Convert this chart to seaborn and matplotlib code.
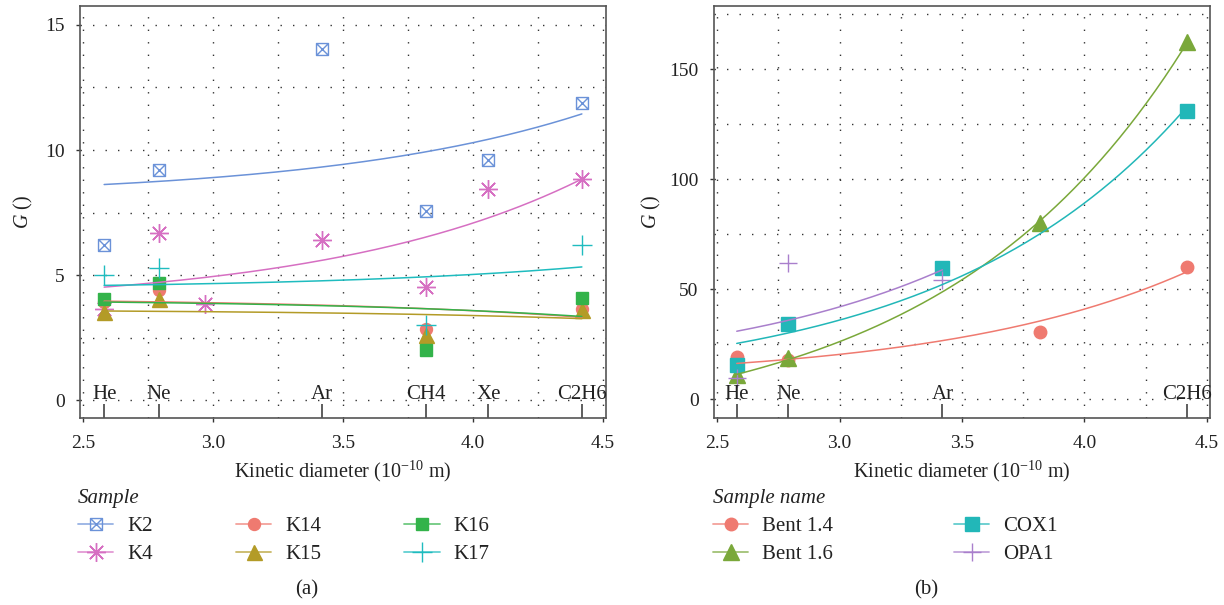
import numpy as np
import matplotlib
matplotlib.use('Agg')
import matplotlib.pyplot as plt
import matplotlib.transforms as mtransforms
from matplotlib.path import Path
from matplotlib.lines import Line2D
import seaborn as sns

sns.set_style('white')
plt.rcParams['font.family'] = ['Liberation Serif', 'DejaVu Serif']
plt.rcParams['mathtext.fontset'] = 'custom'
plt.rcParams['mathtext.rm'] = 'Liberation Serif'
plt.rcParams['mathtext.it'] = 'Liberation Serif:italic'

# gas kinetic diameters (1e-10 m), as placed on the axis
gas_a = ['He', 'Ne', 'Ar', 'CH4', 'Xe', 'C2H6']
gas_a_d = [2.58, 2.79, 3.42, 3.82, 4.06, 4.42]
gas_b = ['He', 'Ne', 'Ar', 'C2H6']
gas_b_d = [2.58, 2.79, 3.42, 4.42]

# panel (a) samples
k2_x = [2.58, 2.79, 3.42, 3.82, 4.06, 4.42]
k2_g = [6.2, 9.2, 14.05, 7.57, 9.6, 11.87]
k4_x = [2.58, 2.79, 2.97, 3.42, 3.82, 4.06, 4.42]
k4_g = [3.67, 6.69, 3.84, 6.4, 4.53, 8.44, 8.84]
k14_x = [2.58, 2.79, 3.82, 4.42]
k14_g = [3.95, 4.4, 2.87, 3.67]
k15_x = [2.58, 2.79, 3.82, 4.42]
k15_g = [3.53, 4.07, 2.6, 3.63]
k16_x = [2.58, 2.79, 3.82, 4.42]
k16_g = [4.07, 4.69, 2.0, 4.09]
k17_x = [2.58, 2.79, 3.82, 4.42]
k17_g = [5.0, 5.29, 3.0, 6.2]

# panel (b) samples
bent14_x = [2.58, 2.79, 3.82, 4.42]
bent14_g = [19.1, 17.9, 30.5, 60.3]
bent16_x = [2.58, 2.79, 3.82, 4.42]
bent16_g = [11.1, 18.6, 80.3, 162.6]
cox1_x = [2.58, 2.79, 3.42, 4.42]
cox1_g = [15.6, 34.2, 59.8, 131.0]
opa1_x = [2.58, 2.79, 3.42]
opa1_g = [9.5, 61.8, 54.2]

# square with a cross inside (ggplot shape 7)
sq_cross = Path([(-1, -1), (1, -1), (1, 1), (-1, 1), (-1, -1), (-1, -1), (1, 1), (-1, 1), (1, -1)],
                [Path.MOVETO, Path.LINETO, Path.LINETO, Path.LINETO, Path.CLOSEPOLY,
                 Path.MOVETO, Path.LINETO, Path.MOVETO, Path.LINETO])

series_a = [
    ('K2', k2_x, k2_g, '#6b92d8', sq_cross, 8.6, False),
    ('K4', k4_x, k4_g, '#d66fc2', (8, 2, 0), 13.5, False),
    ('K14', k14_x, k14_g, '#ef7a70', 'o', 8.6, True),
    ('K15', k15_x, k15_g, '#b39b27', '^', 10.8, True),
    ('K16', k16_x, k16_g, '#33b34a', 's', 9, True),
    ('K17', k17_x, k17_g, '#1fbcbf', '+', 14, False),
]
series_b = [
    ('Bent 1.4', bent14_x, bent14_g, '#ef7a70', 'o', 9, True),
    ('Bent 1.6', bent16_x, bent16_g, '#7aa83a', '^', 11.5, True),
    ('COX1', cox1_x, cox1_g, '#22b7b8', 's', 9.5, True),
    ('OPA1', opa1_x, opa1_g, '#a97fcc', '+', 13, False),
]


def draw_panel(ax, series):
    for name, x, g, c, m, ms, filled in series:
        mfc = c if filled else 'none'
        sns.lineplot(x=x, y=g, estimator=None, sort=False, ax=ax, color=c, linestyle='none',
                     marker=m, ms=ms, mfc=mfc, mec=c, mew=1.0, legend=False, zorder=3)
    for name, x, g, c, m, ms, filled in series:
        # linear least squares on y = c0 + c1 * exp(x)
        c1, c0 = np.polyfit(np.exp(x), g, 1)
        xs = np.linspace(min(x), max(x), 200)
        sns.lineplot(x=xs, y=c0 + c1 * np.exp(xs), ax=ax, color=c, lw=1.1, legend=False, zorder=4)


def setup(ax, ylim, yticks, ygrid, names, pos):
    ax.set_xlim(2.487, 4.513)
    ax.set_ylim(*ylim)
    ax.set_xticks([2.5, 3.0, 3.5, 4.0, 4.5])
    ax.set_xticklabels(['2.5', '3.0', '3.5', '4.0', '4.5'])
    ax.set_xticks(pos, minor=True)
    ax.set_yticks(yticks)
    ax.tick_params(axis='x', which='major', bottom=True, direction='out', length=3,
                   width=1, pad=9, labelsize=14, colors='#333333', labelcolor='#222222')
    ax.tick_params(axis='x', which='minor', bottom=True, direction='in', length=10,
                   width=1.1, colors='#333333')
    ax.tick_params(axis='y', left=True, direction='out', length=3, width=1, pad=8,
                   labelsize=14, colors='#333333', labelcolor='#222222')
    for v in np.arange(2.5, 4.51, 0.25):
        ax.axvline(v, color='#333333', lw=1, ls=(0, (1, 8)), zorder=0)
    for v in ygrid:
        ax.axhline(v, color='#333333', lw=1, ls=(0, (1, 8)), zorder=0)
    for s in ax.spines.values():
        s.set_color('#555555')
        s.set_linewidth(1.2)
    trans = mtransforms.blended_transform_factory(ax.transData, ax.transAxes)
    for n, p in zip(names, pos):
        ax.text(p, 0.058, n, transform=trans, ha='center', va='center', fontsize=15, color='#222222')
    ax.set_xlabel('Kinetic diameter (10$^{-10}$ m)', fontsize=14.5, color='#222222')
    ax.set_ylabel('$\\mathit{G}$ ()', fontsize=14.5, color='#222222')


def add_legend(ax, series, title, x0, colsp):
    handles = []
    for name, x, g, c, m, ms, filled in series:
        ln = Line2D([], [], color=c, lw=1.3, alpha=0.7)
        mk = Line2D([], [], ls='none', marker=m, ms=ms, mfc=c if filled else 'none', mec=c, mew=1.0)
        handles.append((ln, mk))
    leg = ax.legend(handles, [s[0] for s in series], title=title, ncol=3 if len(series) > 4 else 2,
                    loc='upper left', bbox_to_anchor=(x0, 1 - 489 / 605), bbox_transform=fig.transFigure,
                    frameon=False, borderpad=0, borderaxespad=0, fontsize=15, handlelength=1.7,
                    handletextpad=0.65, labelspacing=0.4, columnspacing=colsp, alignment='left',
                    title_fontproperties={'style': 'italic', 'size': 15})
    for t in leg.get_texts():
        t.set_color('#222222')
    leg.get_title().set_color('#222222')


fig = plt.figure(figsize=(12.24, 6.05), dpi=100)
ax_a = fig.add_axes([80 / 1224, 1 - 418 / 605, 526 / 1224, 412 / 605])
ax_b = fig.add_axes([714 / 1224, 1 - 418 / 605, 496 / 1224, 412 / 605])

draw_panel(ax_a, series_a)
setup(ax_a, (-0.7, 15.75), [0, 5, 10, 15], np.arange(0, 15.1, 2.5), gas_a, gas_a_d)
ax_a.yaxis.set_label_coords(-0.086, 0.5)
ax_a.xaxis.set_label_coords(0.5, -0.1)
ax_a.xaxis.label.set_va('top')

draw_panel(ax_b, series_b)
setup(ax_b, (-8.6, 178.8), [0, 50, 100, 150], np.arange(0, 176, 25), gas_b, gas_b_d)
ax_b.yaxis.set_label_coords(-0.103, 0.5)
ax_b.xaxis.set_label_coords(0.5, -0.1)
ax_b.xaxis.label.set_va('top')

add_legend(ax_a, series_a, 'Sample', 78 / 1224, 4.0)
add_legend(ax_b, series_b, 'Sample name', 713 / 1224, 5.8)

fig.text(307 / 1224, 1 - 590 / 605, '(a)', ha='center', va='center', fontsize=15, color='#222222')
fig.text(926 / 1224, 1 - 590 / 605, '(b)', ha='center', va='center', fontsize=15, color='#222222')

fig.savefig('out.png', dpi=100)
